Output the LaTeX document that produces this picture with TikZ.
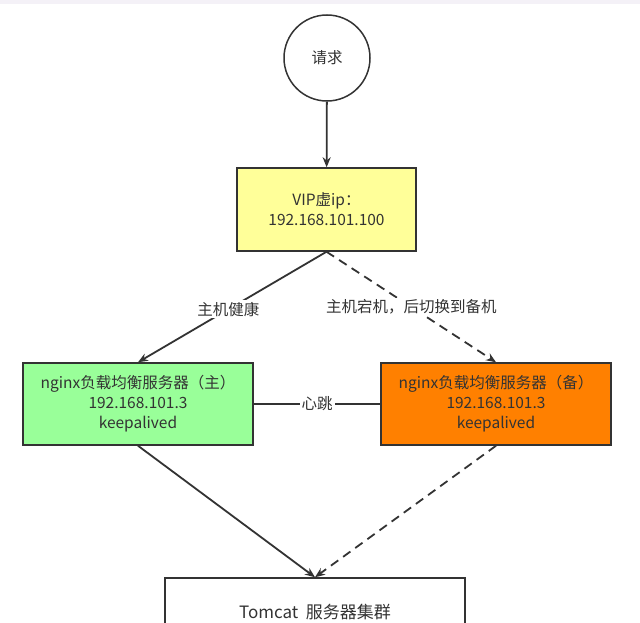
\documentclass[tikz,border=0pt]{standalone}
\usepackage{fontspec}
\setmainfont{Noto Sans CJK SC}
\usetikzlibrary{arrows.meta, positioning}
\tikzset{>={Stealth[length=10pt,width=8pt]}}
\definecolor{vipyellow}{HTML}{FFFF99}
\definecolor{mastergreen}{HTML}{99FF99}
\definecolor{backuporange}{HTML}{FF8000}
\definecolor{linegray}{HTML}{333333}
\definecolor{topband}{HTML}{F4F1F7}

\begin{document}
\begin{tikzpicture}[x=1pt, y=-1pt,
    every node/.style={font=\fontsize{15.5}{20}\selectfont, text=linegray},
    box/.style={draw=linegray, line width=1.5pt, align=center, inner sep=0pt},
    reqcircle/.style={draw=linegray, line width=1.5pt, circle, minimum size=86pt, inner sep=0pt},
    link/.style={draw=linegray, line width=1.8pt, ->},
    tag/.style={fill=white, inner sep=2pt}]
  \clip (0,0) rectangle (640,623);
  \fill[white] (0,0) rectangle (640,623);
  \fill[topband] (0,0) rectangle (640,4);
  % nodes
  \node[reqcircle] (req) at (327,58) {请求};
  \node[box, fill=vipyellow, minimum width=179pt, minimum height=83pt] (vip) at (326.5,209.5) {VIP虚ip：\\192.168.101.100};
  \node[box, fill=mastergreen, minimum width=230pt, minimum height=82pt] (master) at (138,404) {nginx负载均衡服务器（主）\\192.168.101.3\\keepalived};
  \node[box, fill=backuporange, minimum width=230pt, minimum height=82pt] (backup) at (496,404) {nginx负载均衡服务器（备）\\192.168.101.3\\keepalived};
  \node[box, fill=white, minimum width=300pt, minimum height=68pt, font=\fontsize{17}{20}\selectfont] (tomcat) at (315,612) {Tomcat\ \ 服务器集群};
  % connectors
  \draw[link] (req) -- (vip);
  \draw[link] (vip.south) -- node[tag, pos=0.52]{主机健康} (master.north);
  \draw[link, dashed, dash pattern=on 9pt off 6pt] (vip.south) -- node[tag]{主机宕机，后切换到备机} (backup.north);
  \draw[draw=linegray, line width=1.8pt] (master) -- node[tag]{心跳} (backup);
  \draw[link] (master.south) -- (tomcat.north);
  \draw[link, dashed, dash pattern=on 9pt off 6pt] (backup.south) -- (tomcat.north);
\end{tikzpicture}
\end{document}
